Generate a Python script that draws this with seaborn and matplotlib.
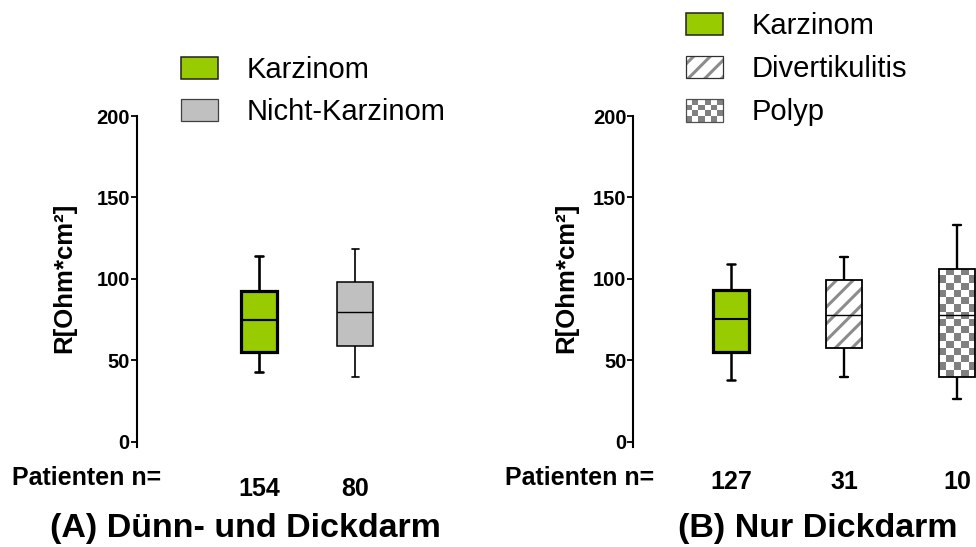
import numpy as np
import pandas as pd
import matplotlib
matplotlib.use("Agg")
import matplotlib.pyplot as plt
import seaborn as sns
from matplotlib.patches import Patch, Rectangle, PathPatch
from matplotlib.legend_handler import HandlerBase
from matplotlib.colors import ListedColormap

# ---------------- data (five-number summaries) -------------
# each list: [minimum, Q1, median, Q3, maximum]  in R[Ohm*cm²]
groups_a = ["Karzinom", "Nicht-Karzinom"]
karzinom_a = [42.5, 55.0, 75.0, 92.7, 113.8]
nicht_karzinom_a = [39.6, 58.5, 79.4, 97.8, 118.6]
n_a = [154, 80]

groups_b = ["Karzinom", "Divertikulitis", "Polyp"]
karzinom_b = [38.0, 55.2, 75.5, 93.4, 109.4]
divertikulitis_b = [39.4, 57.8, 77.8, 99.1, 113.2]
polyp_b = [26.5, 39.4, 77.8, 105.8, 132.9]
n_b = [127, 31, 10]

yticks = [0, 50, 100, 150, 200]
ylabel = "R[Ohm*cm²]"
title_a = "(A) Dünn- und Dickdarm"
title_b = "(B) Nur Dickdarm"
n_label = "Patienten n="

# ---------------- style -----------------
GREEN = "#99CC00"
GREY = "#C0C0C0"
HATCH_GREY = "#8C8C8C"
CHECK_GREY = "#808080"

sns.set_theme(style="ticks")
plt.rcParams["font.family"] = ["Liberation Sans", "DejaVu Sans"]
plt.rcParams["hatch.linewidth"] = 2.2
for k in ("text.color", "axes.labelcolor", "xtick.color", "ytick.color",
          "axes.edgecolor"):
    plt.rcParams[k] = "black"

fig = plt.figure(figsize=(9.76, 5.47), dpi=100)
W, H = 976.0, 547.0
ax_bottom_px, ax_top_px = 446.7, 116.0
axA = fig.add_axes([136.7 / W, 1 - ax_bottom_px / H, (560 - 136.7) / W,
                    (ax_bottom_px - ax_top_px) / H])
axB = fig.add_axes([633.3 / W, 1 - ax_bottom_px / H, (976 - 633.3) / W,
                    (ax_bottom_px - ax_top_px) / H])


def make_df(groups, values):
    return pd.DataFrame({
        "Gruppe": np.repeat(groups, [len(v) for v in values]),
        "R": np.concatenate(values),
    })


def draw_boxes(ax, df, groups, palette, width, capw):
    kws = dict(data=df, x="Gruppe", y="R", hue="Gruppe", order=groups,
               hue_order=groups, palette=palette, width=width, whis=(0, 100),
               linecolor="black", linewidth=1.3, legend=False, saturation=1,
               ax=ax)
    try:
        sns.boxplot(**kws, capwidths=capw)
    except TypeError:
        sns.boxplot(**kws)


dfA = make_df(groups_a, [karzinom_a, nicht_karzinom_a])
dfB = make_df(groups_b, [karzinom_b, divertikulitis_b, polyp_b])

draw_boxes(axA, dfA, groups_a, {"Karzinom": GREEN, "Nicht-Karzinom": GREY},
           0.373, 0.08)
draw_boxes(axB, dfB, groups_b, {"Karzinom": GREEN, "Divertikulitis": "white",
                                "Polyp": "white"}, 0.32, 0.07)


def style_group(ax, idx, box_lw, line_lw, med_lw):
    patch = ax.patches[idx]
    patch.set_linewidth(box_lw)
    lines = ax.lines[idx * 6: idx * 6 + 6]
    for ln in lines[:4]:
        ln.set_linewidth(line_lw)
    lines[4].set_linewidth(med_lw)
    return patch


# panel A
style_group(axA, 0, 2.3, 1.9, 1.6)
style_group(axA, 1, 1.1, 1.2, 1.0)
# panel B
style_group(axB, 0, 2.3, 1.8, 1.5)
p_div = style_group(axB, 1, 1.3, 1.7, 1.0)
p_pol = style_group(axB, 2, 1.3, 1.7, 1.0)

xlimA = (-1.267, 3.119)
xlimB = (-0.865, 2.168)
ylim = (-3.1, 200)
axA.set_xlim(*xlimA)
axB.set_xlim(*xlimB)
for ax in (axA, axB):
    ax.set_ylim(*ylim)

# striped fill for Divertikulitis
over = PathPatch(p_div.get_path(), facecolor="white", edgecolor=HATCH_GREY,
                 linewidth=0, hatch="//", zorder=p_div.get_zorder() - 0.05)
axB.add_patch(over)
p_div.set_facecolor("none")

# checkerboard fill for Polyp
verts = p_pol.get_path().vertices
x0, x1 = verts[:, 0].min(), verts[:, 0].max()
y0, y1 = verts[:, 1].min(), verts[:, 1].max()
(px0, py0), (px1, py1) = axB.transData.transform([(x0, y0), (x1, y1)])
cell = 7.2
nx = max(1, int(round(abs(px1 - px0) / cell)))
ny = max(1, int(round(abs(py1 - py0) / cell)))
grid = np.indices((ny, nx)).sum(axis=0) % 2
im = axB.imshow(grid, extent=(x0, x1, y0, y1), origin="upper",
                cmap=ListedColormap(["white", CHECK_GREY]), vmin=0, vmax=1,
                interpolation="nearest", aspect="auto",
                zorder=p_pol.get_zorder() - 0.05)
im.set_clip_path(p_pol)
p_pol.set_facecolor("none")

axA.set_xlim(*xlimA)
axB.set_xlim(*xlimB)
for ax in (axA, axB):
    ax.set_ylim(*ylim)

# ---------------- axes styling -----------------
for ax, ns, pad in ((axA, n_a, 22), (axB, n_b, 17)):
    for s in ("top", "right", "bottom"):
        ax.spines[s].set_visible(False)
    ax.spines["left"].set_linewidth(1.5)
    ax.spines["left"].set_color("black")
    ax.set_yticks(yticks)
    ax.set_yticklabels([str(t) for t in yticks], fontsize=14.5,
                       fontweight="bold")
    ax.tick_params(axis="y", length=4, width=1.3, pad=1, color="black")
    ax.set_xticks(range(len(ns)))
    ax.set_xticklabels([str(n) for n in ns], fontsize=18, fontweight="bold")
    ax.tick_params(axis="x", length=0, pad=pad)
    ax.set_xlabel("")
    ax.set_ylabel(ylabel, fontsize=18.5, fontweight="bold")
    ax.yaxis.label.set_va("center")
    ax.set_facecolor("white")

axA.yaxis.set_label_coords((64 - 136.7) / (560 - 136.7), 0.51)
axB.yaxis.set_label_coords((566 - 633.3) / (976 - 633.3), 0.51)


# ---------------- legends -----------------
class FillHandler(HandlerBase):
    def __init__(self, kind, face, edge, lw):
        super().__init__()
        self.kind, self.face, self.edge, self.lw = kind, face, edge, lw

    def create_artists(self, legend, orig_handle, xdescent, ydescent, width,
                       height, fontsize, trans):
        x0, y0 = -xdescent, -ydescent
        arts = []
        if self.kind == "checker":
            arts.append(Rectangle((x0, y0), width, height, facecolor="white",
                                  edgecolor="none", transform=trans))
            ncx, ncy = 6, 4
            cw, ch = width / ncx, height / ncy
            for i in range(ncx):
                for j in range(ncy):
                    if (i + j) % 2 == 0:
                        arts.append(Rectangle((x0 + i * cw, y0 + j * ch), cw, ch,
                                              facecolor=CHECK_GREY,
                                              edgecolor="none", transform=trans))
        elif self.kind == "stripe":
            arts.append(Rectangle((x0, y0), width, height, facecolor="white",
                                  edgecolor=HATCH_GREY, linewidth=0, hatch="//",
                                  transform=trans))
        else:
            arts.append(Rectangle((x0, y0), width, height, facecolor=self.face,
                                  edgecolor="none", transform=trans))
        arts.append(Rectangle((x0, y0), width, height, facecolor="none",
                              edgecolor=self.edge, linewidth=self.lw,
                              transform=trans))
        return arts


leg_fs = 21
fs_px = leg_fs * 100 / 72.0
leg_kw = dict(loc="upper left", bbox_transform=fig.transFigure, frameon=False,
              borderpad=0, borderaxespad=0, fontsize=leg_fs,
              handlelength=37 / fs_px, handleheight=24 / fs_px,
              handletextpad=29 / fs_px)

hA = [Patch(label=g) for g in groups_a]
mapA = {hA[0]: FillHandler("solid", GREEN, "#202020", 1.1),
        hA[1]: FillHandler("solid", GREY, "#404040", 0.9)}
axA.legend(handles=hA, handler_map=mapA, labelspacing=0.48,
           bbox_to_anchor=(181 / W, 1 - 56 / H), **leg_kw)

hB = [Patch(label=g) for g in groups_b]
mapB = {hB[0]: FillHandler("solid", GREEN, "#202020", 1.1),
        hB[1]: FillHandler("stripe", "white", "#303030", 0.9),
        hB[2]: FillHandler("checker", "white", "#505050", 0.9)}
axB.legend(handles=hB, handler_map=mapB, labelspacing=0.52,
           bbox_to_anchor=(686 / W, 1 - 12 / H), **leg_kw)

# ---------------- texts -----------------
fig.text(12 / W, 1 - 478 / H, n_label, fontsize=18, fontweight="bold",
         ha="left", va="center")
fig.text(505 / W, 1 - 478 / H, n_label, fontsize=18, fontweight="bold",
         ha="left", va="center")
fig.text(245 / W, 1 - 528 / H, title_a, fontsize=24.5, fontweight="bold",
         ha="center", va="center")
fig.text(818 / W, 1 - 528 / H, title_b, fontsize=24.5, fontweight="bold",
         ha="center", va="center")

fig.savefig("out.png", dpi=100, facecolor="white")
